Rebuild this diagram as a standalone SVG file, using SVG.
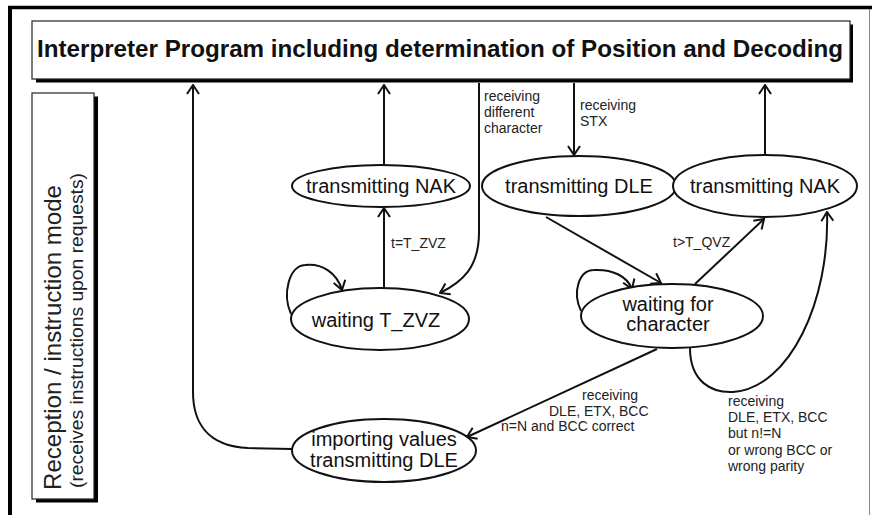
<svg xmlns="http://www.w3.org/2000/svg" width="872" height="515" viewBox="0 0 872 515">
<defs>
<marker id="ah" viewBox="-11 -7 12 14" refX="0" refY="0" markerWidth="12" markerHeight="14" markerUnits="userSpaceOnUse" orient="auto">
<path d="M-9,-6 L0,0 L-9,6" fill="none" stroke="#111" stroke-width="2"/>
</marker>
<style>
.node ellipse{fill:#fff;stroke:#111;stroke-width:2}
.nt{font-family:"Liberation Sans",Arial,sans-serif;font-size:20px;fill:#111;text-anchor:middle}
.lbl{font-family:"Liberation Sans",Arial,sans-serif;font-size:14px;fill:#222}
.conn path{fill:none;stroke:#111;stroke-width:2}
</style>
</defs>
<rect x="0" y="0" width="872" height="515" fill="#fff"/>
<!-- frame -->
<g id="frame">
<line x1="869.5" y1="8" x2="869.5" y2="515" stroke="#888" stroke-width="1"/>
<line x1="8" y1="7.5" x2="872" y2="7.5" stroke="#000" stroke-width="3.5"/>
<line x1="10" y1="6" x2="10" y2="515" stroke="#000" stroke-width="4"/>
</g>
<!-- header -->
<g id="header">
<rect x="36" y="24.5" width="817" height="58" fill="#000"/>
<rect x="32" y="21" width="818" height="58" fill="#fff" stroke="#222" stroke-width="1.2"/>
<text x="440" y="57" font-family="'Liberation Sans',Arial,sans-serif" font-size="24" font-weight="bold" fill="#111" text-anchor="middle" textLength="806" lengthAdjust="spacingAndGlyphs">Interpreter Program including determination of Position and Decoding</text>
</g>
<!-- side box -->
<g id="mode">
<rect x="36" y="96.5" width="62" height="406" fill="#000"/>
<rect x="32" y="93" width="62" height="406" fill="#fff" stroke="#222" stroke-width="1.2"/>
<text transform="translate(61,490) rotate(-90)" font-family="'Liberation Sans',Arial,sans-serif" font-size="24" fill="#222" textLength="305" lengthAdjust="spacingAndGlyphs">Reception / instruction mode</text>
<text transform="translate(83,488) rotate(-90)" font-family="'Liberation Sans',Arial,sans-serif" font-size="18" fill="#222" textLength="315" lengthAdjust="spacingAndGlyphs">(receives instructions upon requests)</text>
</g>
<!-- connectors -->
<g class="conn" id="connectors">
<path d="M384,165 L384,85" marker-end="url(#ah)"/>
<path d="M765,155 L765,85" marker-end="url(#ah)"/>
<path d="M574,83 L574,155" marker-end="url(#ah)"/>
<path d="M479,83 L479,232 C479,268 462,282 440,293" marker-end="url(#ah)"/>
<path d="M384,288 L384,208" marker-end="url(#ah)"/>
<path d="M291,314 C282,294 289,266 305,265 C322,263 337,273 342,290" marker-end="url(#ah)"/>
<path d="M581,311 C572,292 579,270 594,270 C612,269 627,276 632,289" marker-end="url(#ah)"/>
<path d="M546,217 L661,283" marker-end="url(#ah)"/>
<path d="M695,284 L764,219" marker-end="url(#ah)"/>
<path d="M690,348 C690,382 712,393 733,392 C790,388 830,300 827,212" marker-end="url(#ah)"/>
<path d="M657,349 L467,437" marker-end="url(#ah)"/>
<path d="M292,449 L248,448 C207,446 193,422 193,392 L193,85" marker-end="url(#ah)"/>
</g>
<!-- labels -->
<g id="labels">
<text class="lbl" x="484" y="101">receiving</text>
<text class="lbl" x="484" y="117">different</text>
<text class="lbl" x="484" y="133">character</text>
<text class="lbl" x="580" y="110">receiving</text>
<text class="lbl" x="580" y="126">STX</text>
<text class="lbl" x="391" y="248">t=T_ZVZ</text>
<text class="lbl" x="673" y="247">t&gt;T_QVZ</text>
<text class="lbl" x="582" y="400">receiving</text>
<text class="lbl" x="549" y="416">DLE, ETX, BCC</text>
<text class="lbl" x="501" y="431">n=N and BCC correct</text>
<text class="lbl" x="728" y="406">receiving</text>
<text class="lbl" x="728" y="422">DLE, ETX, BCC</text>
<text class="lbl" x="728" y="438">but n!=N</text>
<text class="lbl" x="728" y="455">or wrong BCC or</text>
<text class="lbl" x="728" y="471">wrong parity</text>
</g>
<!-- nodes -->
<g class="node" id="nak1">
<ellipse cx="381" cy="186" rx="89" ry="21"/>
<text class="nt" x="381" y="193">transmitting NAK</text>
</g>
<g class="node" id="dle">
<ellipse cx="579" cy="186" rx="97" ry="30"/>
<text class="nt" x="579" y="193">transmitting DLE</text>
</g>
<g class="node" id="nak2">
<ellipse cx="765" cy="186" rx="92" ry="31"/>
<text class="nt" x="765" y="193">transmitting NAK</text>
</g>
<g class="node" id="wzvz">
<ellipse cx="380" cy="319" rx="89" ry="31"/>
<text class="nt" x="376" y="327">waiting T_ZVZ</text>
</g>
<g class="node" id="wchar">
<ellipse cx="672" cy="316" rx="91" ry="32"/>
<text class="nt" x="668" y="311">waiting for</text>
<text class="nt" x="668" y="331">character</text>
</g>
<g class="node" id="import">
<ellipse cx="384" cy="450.5" rx="92" ry="31.5"/>
<text class="nt" x="384" y="446">importing values</text>
<text class="nt" x="384" y="467">transmitting DLE</text>
</g>
</svg>
